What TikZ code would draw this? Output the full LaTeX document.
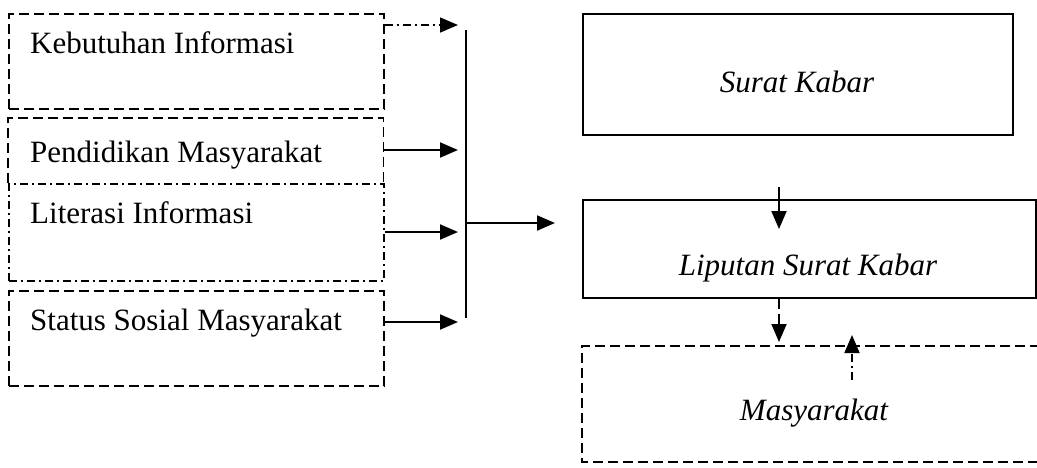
\documentclass[tikz,border=0pt]{standalone}
\usepackage{fontspec}
\setmainfont{Liberation Serif}
\usetikzlibrary{arrows.meta}
\begin{document}
\begin{tikzpicture}[x=1pt,y=-1pt,
  every node/.style={font=\fontsize{31}{36}\selectfont, inner sep=0pt},
  dsh/.style={line width=1.6pt, dash pattern=on 10pt off 5pt},
  dshdot/.style={line width=1.6pt, dash pattern=on 8pt off 4pt on 2pt off 4pt},
  solidbox/.style={draw, line width=2pt, rectangle, anchor=north west},
  txt/.style={anchor=base west},
  arr/.style={line width=2pt, -{Triangle[length=18pt,width=15pt]}},
]
\useasboundingbox (0,0) rectangle (1037,467);
% left boxes
\node[draw, dsh, rectangle, anchor=north west, minimum width=375pt, minimum height=95pt] (k) at (8,13) {};
\node[txt] (kt) at (30,53) {Kebutuhan Informasi};
\node[rectangle, anchor=north west, minimum width=375pt, minimum height=65pt] (p) at (8,118) {};
\draw[dsh] (p.south west) -- (p.north west) -- (p.north east) -- (p.south east);
\node[txt] (pt) at (30,162) {Pendidikan Masyarakat};
\node[draw, dshdot, rectangle, anchor=north west, minimum width=375pt, minimum height=97pt] (l) at (8,183) {};
\node[txt] (lt) at (30,223) {Literasi Informasi};
\node[draw, dsh, rectangle, anchor=north west, minimum width=375pt, minimum height=95pt] (s) at (8,290) {};
\node[txt] (st) at (30,330) {Status Sosial Masyarakat};
% bus
\coordinate (bt) at (466,30);
\coordinate (bb) at (466,318);
\coordinate (bm) at (466,223);
\draw[line width=2pt] (bt) -- (bb);
\coordinate (t1) at (458,25);
\coordinate (t2) at (458,150);
\coordinate (t3) at (458,232);
\coordinate (t4) at (458,322);
\coordinate (t5) at (555,223);
\draw[arr, dash pattern=on 8pt off 4pt on 2pt off 4pt, line width=1.6pt] (k.east |- t1) -- (t1);
\draw[arr] (p.east |- t2) -- (t2);
\draw[arr] (l.east |- t3) -- (t3);
\draw[arr] (s.east |- t4) -- (t4);
% right boxes
\node[solidbox, minimum width=430pt, minimum height=121pt] (sk) at (582,13) {};
\node (skt) at (797,92) [anchor=base] {\itshape Surat Kabar};
\node[solidbox, minimum width=453pt, minimum height=98pt] (lp) at (582,199) {};
\node (lpt) at (808,275) [anchor=base] {\itshape Liputan Surat Kabar};
\coordinate (mnw) at (582,346);
\coordinate (mne) at (1040,346);
\coordinate (msw) at (582,462);
\coordinate (mse) at (1040,462);
\draw[dsh] (mne) -- (mnw) -- (msw) -- (mse);
\node (ms) at (814,420) [anchor=base] {\itshape Masyarakat};
% arrows
\draw[arr] (bm) -- (t5);
\coordinate (a1s) at (779,187);
\coordinate (a1e) at (779,229);
\draw[arr] (a1s) -- (a1e);
\coordinate (a2e) at (779,342);
\draw[arr, dsh, line width=1.8pt] (lp.south -| a2e) -- (a2e);
\coordinate (a3s) at (852,380);
\coordinate (a3e) at (852,335);
\draw[arr, dshdot, line width=1.8pt] (a3s) -- (a3e);
\end{tikzpicture}
\end{document}
